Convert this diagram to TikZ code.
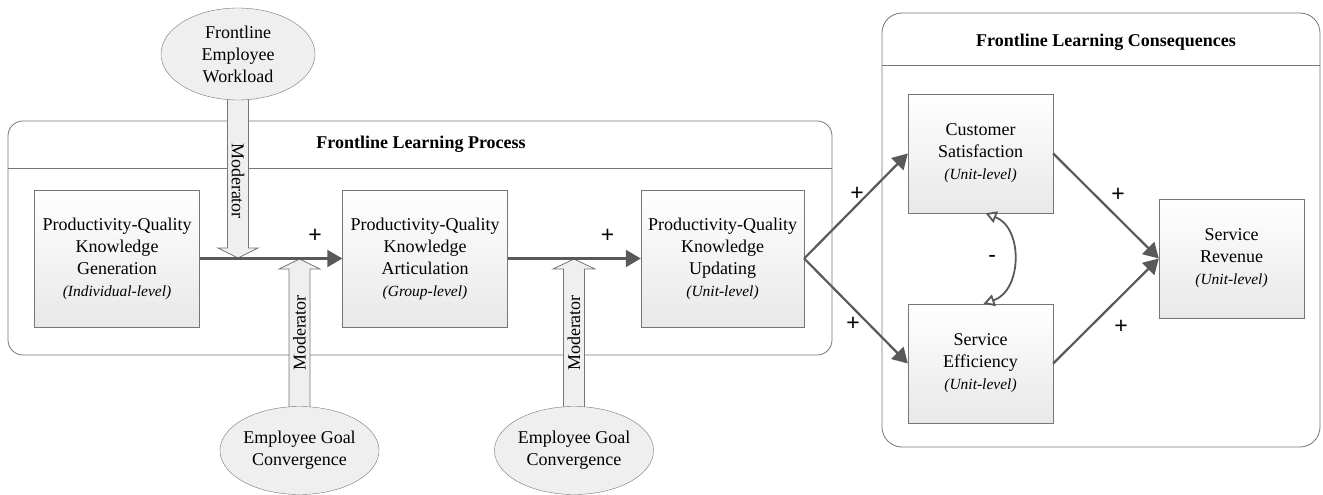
\documentclass[tikz,border=0pt]{standalone}
\usepackage{fontspec}
\setmainfont{Liberation Serif}
\newfontfamily\signfont{Liberation Sans}
\usetikzlibrary{arrows.meta}
\usetikzlibrary{shapes.geometric}

\definecolor{linegray}{HTML}{595959}
\definecolor{framegray}{HTML}{767676}
\definecolor{fillgray}{HTML}{EFEFEF}
\newcommand\lvltext[1]{{\fontsize{15.5}{22}\selectfont\itshape(#1)}}

\begin{document}
\begin{tikzpicture}
[x=1pt,y=-1pt,>={Triangle[length=15pt,width=17pt]},
  every node/.style={font=\fontsize{18}{22}\selectfont},
  construct/.style={draw=framegray,top color=white,bottom color=black!9,
    minimum width=165pt,minimum height=137pt,align=center,inner sep=2pt},
  outcome/.style={construct,minimum width=145pt,minimum height=119pt},
  factor/.style={ellipse,draw=framegray,fill=fillgray,minimum width=154pt,
    inner sep=0pt,align=center},
  container/.style={draw=framegray,line width=0.8pt,rounded corners=15pt},
  title/.style={font=\bfseries\fontsize{18}{22}\selectfont},
  modarrow/.style={draw=framegray,fill=fillgray,line width=0.8pt},
  link/.style={->,draw=linegray,line width=2.2pt},
  sign/.style={font=\signfont\fontsize{23}{23}\selectfont,text=black}]
\useasboundingbox (0,0) rectangle (1323,495);
%% containers
\draw[container] (8,121) rectangle (832,355);
\draw[framegray,line width=0.8pt] (8,168) -- (832,168);
\node[title] (process) at (421,144) {Frontline Learning Process};
\draw[container,rounded corners=20pt] (882,13) rectangle (1320,447);
\draw[framegray,line width=0.8pt] (882,65) -- (1320,65);
\node[title] (conseq) at (1106,42) {Frontline Learning Consequences};
%% moderator arrows
\draw[modarrow] (227.5,96) -- (227.5,248) -- (218,248) -- (238,258)
  -- (258,248) -- (248.5,248) -- (248.5,96) -- cycle;
\draw[modarrow] (289,412) -- (289,269) -- (279,269) -- (299.5,259)
  -- (320,269) -- (310,269) -- (310,412) -- cycle;
\draw[modarrow] (563.5,412) -- (563.5,269) -- (553,269) -- (574,259)
  -- (595,269) -- (584.5,269) -- (584.5,412) -- cycle;
\node[rotate=-90] (mod1) at (238,181) {Moderator};
\node[rotate=90] (mod2) at (299.5,333) {Moderator};
\node[rotate=90] (mod3) at (574,333) {Moderator};
%% moderators
\node[factor,minimum height=92pt] (load) at (238,54) {Frontline\\Employee\\Workload};
\node[factor,minimum height=88pt] (goal1) at (299.5,450.5) {Employee Goal\\Convergence};
\node[factor,minimum height=88pt] (goal2) at (574,450.5) {Employee Goal\\Convergence};
%% constructs
\node[construct] (gen) at (117,258.5)
  {Productivity-Quality\\Knowledge\\Generation\\\lvltext{Individual-level}};
\node[construct] (art) at (425,258.5)
  {Productivity-Quality\\Knowledge\\Articulation\\\lvltext{Group-level}};
\node[construct,minimum width=163pt] (upd) at (722.5,258.5)
  {Productivity-Quality\\Knowledge\\Updating\\\lvltext{Unit-level}};
\node[outcome] (sat) at (980.5,153.5) {Customer\\Satisfaction\\\lvltext{Unit-level}};
\node[outcome] (eff) at (980.5,363.5) {Service\\Efficiency\\\lvltext{Unit-level}};
\node[outcome] (rev) at (1231.5,258.5) {Service\\Revenue\\\lvltext{Unit-level}};
%% paths
\draw[link] (gen) -- node[sign,pos=.81,yshift=23pt] {+} (art);
\draw[link] (art) -- node[sign,pos=.75,yshift=23pt] {+} (upd);
\draw[link] (upd.east) -- node[sign,pos=.5,xshift=1pt,yshift=12pt] {+} (sat.west);
\draw[link] (upd.east) -- node[sign,pos=.5,xshift=-3pt,yshift=-13pt] {+} (eff.west);
\draw[link] (sat.east) -- node[sign,pos=.5,xshift=12pt,yshift=11pt] {+} (rev.west);
\draw[link] (eff.east) -- node[sign,pos=.5,xshift=15pt,yshift=-16pt] {+} (rev.west);
\draw[draw=linegray,line width=1.8pt,
  {Triangle[open,length=11pt,width=12pt]}-{Triangle[open,length=11pt,width=12pt]}]
  ([xshift=5pt]sat.south) to[bend left=70,looseness=1.15]
  node[sign,pos=.5,xshift=-21pt] {-} ([xshift=3pt]eff.north);
\end{tikzpicture}
\end{document}
